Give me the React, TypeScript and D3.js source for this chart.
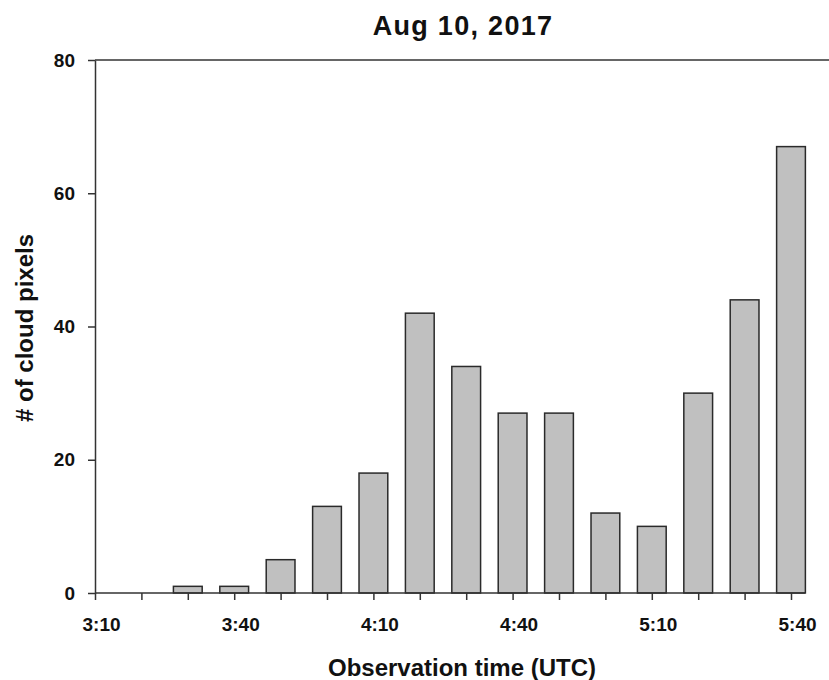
import { useEffect, useRef } from 'react';
import * as d3 from 'd3';

const width = 829;
const height = 680;
const margin = { top: 60, right: 38, bottom: 87, left: 95 };
const font = '"Liberation Sans", Arial, sans-serif';
const barFill = '#c0c0c0';
const ink = '#333';

// observation times (10 min steps) and cloud pixel counts
const times = ['3:10', '3:20', '3:30', '3:40', '3:50', '4:00', '4:10', '4:20',
    '4:30', '4:40', '4:50', '5:00', '5:10', '5:20', '5:30', '5:40'];
const cloudPixels = [0, 0, 1, 1, 5, 13, 18, 42, 34, 27, 27, 12, 10, 30, 44, 67];
const xTickLabels = ['3:10', '3:40', '4:10', '4:40', '5:10', '5:40'];
const yTicks = [0, 20, 40, 60, 80];

export default function App() {
    const ref = useRef<SVGSVGElement>(null);

    useEffect(() => {
        const svg = d3.select(ref.current);
        svg.selectAll('*').remove();

        const plotBottom = height - margin.bottom; // ~593
        const xScale = d3.scalePoint<string>()
            .domain(times)
            .range([margin.left, 791]);
        const yScale = d3.scaleLinear()
            .domain([0, 80])
            .range([plotBottom, margin.top]);
        const barWidth = xScale.step() * 0.62;

        const data = times.map((t, i) => ({ time: t, value: cloudPixels[i] }));

        // bars
        svg.append('g')
            .selectAll('rect')
            .data(data.filter(d => d.value > 0))
            .join('rect')
            .attr('x', d => (xScale(d.time) as number) - barWidth / 2)
            .attr('y', d => yScale(d.value))
            .attr('width', barWidth)
            .attr('height', d => plotBottom - yScale(d.value))
            .attr('fill', barFill)
            .attr('stroke', '#2a2a2a')
            .attr('stroke-width', 1.5);

        // top frame line
        svg.append('line')
            .attr('x1', margin.left)
            .attr('x2', width)
            .attr('y1', yScale(80))
            .attr('y2', yScale(80))
            .attr('stroke', ink)
            .attr('stroke-width', 1.5);

        // x axis
        const xAxis = d3.axisBottom(xScale)
            .tickSize(7)
            .tickSizeOuter(0)
            .tickFormat(d => (xTickLabels.includes(d) ? d : ''));
        const gx = svg.append('g')
            .attr('transform', `translate(0, ${plotBottom})`)
            .call(xAxis);
        gx.select('.domain').remove();
        gx.append('line')
            .attr('x1', margin.left)
            .attr('x2', width - margin.right + 14)
            .attr('stroke', ink)
            .attr('stroke-width', 1.5);
        gx.selectAll('.tick line').attr('stroke', ink).attr('stroke-width', 1.5);
        gx.selectAll('.tick text')
            .attr('y', 38)
            .attr('dy', 0)
            .attr('dx', 6)
            .attr('fill', '#111')
            .style('font', `bold 19px ${font}`);

        // y axis
        const yAxis = d3.axisLeft(yScale)
            .tickValues(yTicks)
            .tickSize(7)
            .tickSizeOuter(0)
            .tickPadding(13);
        const gy = svg.append('g')
            .attr('transform', `translate(${margin.left}, 0)`)
            .call(yAxis);
        gy.select('.domain').attr('stroke', ink).attr('stroke-width', 1.5);
        gy.selectAll('.tick line').attr('stroke', ink).attr('stroke-width', 1.5);
        gy.selectAll('.tick text')
            .attr('fill', '#111')
            .style('font', `bold 19px ${font}`);

        // title
        svg.append('text')
            .attr('x', 463)
            .attr('y', 35)
            .attr('text-anchor', 'middle')
            .attr('fill', '#111')
            .style('font', `bold 27px ${font}`)
            .style('letter-spacing', '1.3px')
            .text('Aug 10, 2017');

        // axis titles
        svg.append('text')
            .attr('x', 462)
            .attr('y', 676)
            .attr('text-anchor', 'middle')
            .attr('fill', '#111')
            .style('font', `bold 24px ${font}`)
            .text('Observation time (UTC)');

        svg.append('text')
            .attr('transform', 'translate(33, 328) rotate(-90)')
            .attr('text-anchor', 'middle')
            .attr('fill', '#111')
            .style('font', `bold 24px ${font}`)
            .text('# of cloud pixels');
    }, []);

    return (
        <svg ref={ref} width={width} height={height}
            style={{ position: 'absolute', left: 0, top: 0, background: '#fff' }} />
    );
}
